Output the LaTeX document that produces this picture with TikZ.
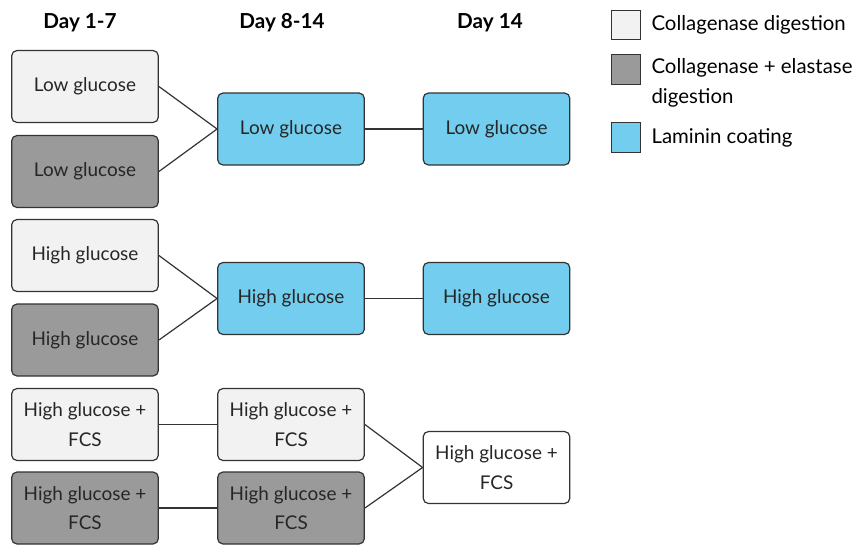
\documentclass[tikz,border=0pt]{standalone}
\usepackage{fontspec}
\setmainfont{Lato}
\usepackage{tikz}
\usetikzlibrary{calc}
\definecolor{lightgr}{HTML}{F2F2F2}
\definecolor{darkgr}{HTML}{9A9A9A}
\definecolor{lamblue}{HTML}{72CDEE}
\tikzstyle{box} = [draw=black!80,line width=0.9pt,rounded corners=4pt,text=black!85,
  minimum width=110pt,minimum height=54pt,align=center,font=\fontsize{14.2}{22}\selectfont]
\tikzstyle{coll} = [box,fill=lightgr]
\tikzstyle{elas} = [box,fill=darkgr]
\tikzstyle{lam} = [box,fill=lamblue]
\tikzstyle{plain} = [box,fill=white]
\tikzstyle{key} = [draw=black!80,line width=0.9pt,minimum size=22pt,inner sep=0pt]
\tikzstyle{keytext} = [anchor=west,align=left,inner sep=0pt,font=\fontsize{15.3}{22.5}\selectfont]
\tikzstyle{day} = [font=\bfseries\fontsize{15.5}{18}\selectfont]
\tikzstyle{link} = [draw=black!80,line width=0.9pt]

\begin{document}
\begin{tikzpicture}[x=0.75pt,y=-0.75pt]
\useasboundingbox (0,0) rectangle (863,544);

% Column headings
    \node[day] at (80,23) (d1) {Day 1-7};
    \node[day] at (282,23) (d2) {Day 8-14};
    \node[day] at (490,23) (d3) {Day 14};

% Day 1-7 column
    \node[coll] at (85,86.5) (low1) {Low glucose};
    \node[elas] at (85,171.5) (low2) {Low glucose};
    \node[coll] at (85,255.5) (high1) {High glucose};
    \node[elas] at (85,340) (high2) {High glucose};
    \node[coll] at (85,424.5) (fcs1) {High glucose +\\FCS};
    \node[elas] at (85,508) (fcs2) {High glucose +\\FCS};

% Day 8-14 column
    \node[lam] at (291,129) (lowm) {Low glucose};
    \node[lam] at (291,298.5) (highm) {High glucose};
    \node[coll] at (291,424.5) (fcsm1) {High glucose +\\FCS};
    \node[elas] at (291,508) (fcsm2) {High glucose +\\FCS};

% Day 14 column
    \node[lam] at (496.5,129) (lowr) {Low glucose};
    \node[lam] at (496.5,298.5) (highr) {High glucose};
    \node[plain] at (496.5,467.5) (fcsr) {High glucose +\\FCS};

% Connectors
    \draw[link] (low1.east) -- (lowm.west);
    \draw[link] (low2.east) -- (lowm.west);
    \draw[link] (lowm) -- (lowr);
    \draw[link] (high1.east) -- (highm.west);
    \draw[link] (high2.east) -- (highm.west);
    \draw[link] (highm) -- (highr);
    \draw[link] (fcs1) -- (fcsm1);
    \draw[link] (fcs2) -- (fcsm2);
    \draw[link] (fcsm1.east) -- (fcsr.west);
    \draw[link] (fcsm2.east) -- (fcsr.west);

% Legend
    \node[key,fill=lightgr] at (626,25) (k1) {};
    \node[key,fill=darkgr] at (626,69.5) (k2) {};
    \node[key,fill=lamblue] at (626,137.5) (k3) {};
    \node[keytext] at ($(k1.east)+(10,0)$) (t1) {Collagenase digestion};
    \node[keytext,anchor=north west] at ($(k2.north east)+(10,4)$) (t2) {Collagenase + elastase\\digestion};
    \node[keytext] at ($(k3.east)+(10,0)$) (t3) {Laminin coating};

\end{tikzpicture}
\end{document}
